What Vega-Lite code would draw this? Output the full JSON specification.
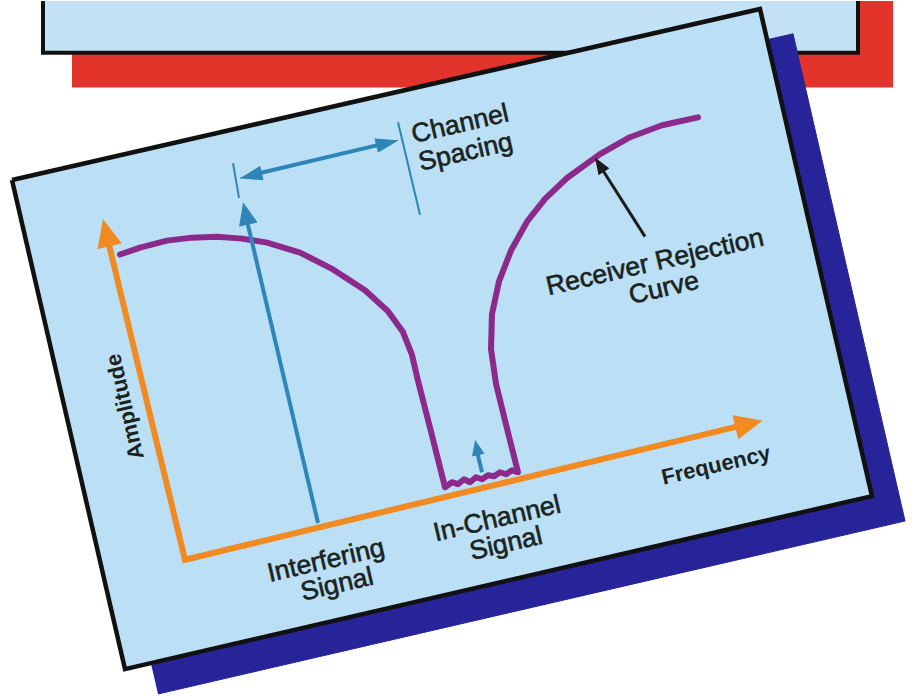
{
  "$schema": "https://vega.github.io/schema/vega-lite/v6.json",
  "width": 915,
  "height": 696,
  "padding": 0,
  "autosize": {"type": "fit", "contains": "padding"},
  "background": "#ffffff",
  "config": {"view": {"stroke": null}},
  "datasets": {
    "paths": [
      {"grp": "navy", "id": "n", "k": 0, "x": 45, "y": 205},
      {"grp": "navy", "id": "n", "k": 1, "x": 793, "y": 33},
      {"grp": "navy", "id": "n", "k": 2, "x": 905, "y": 523},
      {"grp": "navy", "id": "n", "k": 3, "x": 158, "y": 697},

      {"grp": "panel", "id": "p", "k": 0, "x": 12, "y": 180},
      {"grp": "panel", "id": "p", "k": 1, "x": 760, "y": 8},
      {"grp": "panel", "id": "p", "k": 2, "x": 872, "y": 498},
      {"grp": "panel", "id": "p", "k": 3, "x": 125, "y": 672},
      {"grp": "panel", "id": "p", "k": 4, "x": 12, "y": 180},

      {"grp": "axis", "id": "a", "k": 0, "x": 108, "y": 241},
      {"grp": "axis", "id": "a", "k": 1, "x": 185, "y": 562},
      {"grp": "axis", "id": "a", "k": 2, "x": 741, "y": 427},

      {"grp": "axishead", "id": "av", "k": 0, "x": 103, "y": 220},
      {"grp": "axishead", "id": "av", "k": 1, "x": 121, "y": 243.4},
      {"grp": "axishead", "id": "av", "k": 2, "x": 97.6, "y": 249},
      {"grp": "axishead", "id": "ah", "k": 0, "x": 762, "y": 422},
      {"grp": "axishead", "id": "ah", "k": 1, "x": 738.6, "y": 440.1},
      {"grp": "axishead", "id": "ah", "k": 2, "x": 733, "y": 416.7},

      {"grp": "curve", "id": "c", "k": 0, "x": 120, "y": 255},
      {"grp": "curve", "id": "c", "k": 1, "x": 140, "y": 248},
      {"grp": "curve", "id": "c", "k": 2, "x": 167, "y": 241},
      {"grp": "curve", "id": "c", "k": 3, "x": 192, "y": 238},
      {"grp": "curve", "id": "c", "k": 4, "x": 217, "y": 237},
      {"grp": "curve", "id": "c", "k": 5, "x": 242, "y": 239},
      {"grp": "curve", "id": "c", "k": 6, "x": 267, "y": 243},
      {"grp": "curve", "id": "c", "k": 7, "x": 300, "y": 253},
      {"grp": "curve", "id": "c", "k": 8, "x": 333, "y": 270},
      {"grp": "curve", "id": "c", "k": 9, "x": 365, "y": 291},
      {"grp": "curve", "id": "c", "k": 10, "x": 388, "y": 312},
      {"grp": "curve", "id": "c", "k": 11, "x": 403, "y": 333},
      {"grp": "curve", "id": "c", "k": 12, "x": 412, "y": 356},
      {"grp": "curve", "id": "c", "k": 13, "x": 418, "y": 382},
      {"grp": "curve", "id": "c", "k": 14, "x": 432, "y": 437},
      {"grp": "curve", "id": "c", "k": 15, "x": 445, "y": 489},
      {"grp": "curve", "id": "c", "k": 16, "x": 452, "y": 484},
      {"grp": "curve", "id": "c", "k": 17, "x": 458, "y": 486},
      {"grp": "curve", "id": "c", "k": 18, "x": 464, "y": 481},
      {"grp": "curve", "id": "c", "k": 19, "x": 470, "y": 484},
      {"grp": "curve", "id": "c", "k": 20, "x": 476, "y": 479},
      {"grp": "curve", "id": "c", "k": 21, "x": 482, "y": 481},
      {"grp": "curve", "id": "c", "k": 22, "x": 488, "y": 477},
      {"grp": "curve", "id": "c", "k": 23, "x": 494, "y": 478},
      {"grp": "curve", "id": "c", "k": 24, "x": 500, "y": 474},
      {"grp": "curve", "id": "c", "k": 25, "x": 506, "y": 476},
      {"grp": "curve", "id": "c", "k": 26, "x": 512, "y": 472},
      {"grp": "curve", "id": "c", "k": 27, "x": 518, "y": 474},
      {"grp": "curve", "id": "c", "k": 28, "x": 507, "y": 430},
      {"grp": "curve", "id": "c", "k": 29, "x": 496, "y": 385},
      {"grp": "curve", "id": "c", "k": 30, "x": 491, "y": 350},
      {"grp": "curve", "id": "c", "k": 31, "x": 492, "y": 315},
      {"grp": "curve", "id": "c", "k": 32, "x": 499, "y": 282},
      {"grp": "curve", "id": "c", "k": 33, "x": 511, "y": 251},
      {"grp": "curve", "id": "c", "k": 34, "x": 527, "y": 222},
      {"grp": "curve", "id": "c", "k": 35, "x": 545, "y": 199},
      {"grp": "curve", "id": "c", "k": 36, "x": 567, "y": 178},
      {"grp": "curve", "id": "c", "k": 37, "x": 600, "y": 154},
      {"grp": "curve", "id": "c", "k": 38, "x": 630, "y": 137},
      {"grp": "curve", "id": "c", "k": 39, "x": 662, "y": 125},
      {"grp": "curve", "id": "c", "k": 40, "x": 698, "y": 117},

      {"grp": "blueshaft", "id": "s1", "k": 0, "x": 318, "y": 525},
      {"grp": "blueshaft", "id": "s1", "k": 1, "x": 247, "y": 221},
      {"grp": "blueshaft", "id": "s2", "k": 0, "x": 256, "y": 174},
      {"grp": "blueshaft", "id": "s2", "k": 1, "x": 382, "y": 144},
      {"grp": "blueshaft", "id": "s3", "k": 0, "x": 482, "y": 474},
      {"grp": "blueshaft", "id": "s3", "k": 1, "x": 477, "y": 453},

      {"grp": "bluetick", "id": "t1", "k": 0, "x": 233, "y": 163},
      {"grp": "bluetick", "id": "t1", "k": 1, "x": 239, "y": 198},
      {"grp": "bluetick", "id": "t2", "k": 0, "x": 398, "y": 122},
      {"grp": "bluetick", "id": "t2", "k": 1, "x": 420, "y": 215},

      {"grp": "bluehead", "id": "h1", "k": 0, "x": 243, "y": 203},
      {"grp": "bluehead", "id": "h1", "k": 1, "x": 256.8, "y": 222.4},
      {"grp": "bluehead", "id": "h1", "k": 2, "x": 239.2, "y": 226.4},
      {"grp": "bluehead", "id": "h2", "k": 0, "x": 240, "y": 178},
      {"grp": "bluehead", "id": "h2", "k": 1, "x": 263, "y": 179.7},
      {"grp": "bluehead", "id": "h2", "k": 2, "x": 259.8, "y": 166.1},
      {"grp": "bluehead", "id": "h3", "k": 0, "x": 398, "y": 140},
      {"grp": "bluehead", "id": "h3", "k": 1, "x": 378.2, "y": 151.9},
      {"grp": "bluehead", "id": "h3", "k": 2, "x": 375, "y": 138.3},
      {"grp": "bluehead", "id": "h4", "k": 0, "x": 475, "y": 442},
      {"grp": "bluehead", "id": "h4", "k": 1, "x": 483.8, "y": 455},
      {"grp": "bluehead", "id": "h4", "k": 2, "x": 472.2, "y": 457.5},

      {"grp": "blackline", "id": "b", "k": 0, "x": 645, "y": 237},
      {"grp": "blackline", "id": "b", "k": 1, "x": 602, "y": 169},
      {"grp": "blackhead", "id": "bh", "k": 0, "x": 595, "y": 158},
      {"grp": "blackhead", "id": "bh", "k": 1, "x": 608.7, "y": 168.3},
      {"grp": "blackhead", "id": "bh", "k": 2, "x": 598.5, "y": 174.7}
    ]
  },
  "encoding": {
    "x": {"field": "x", "type": "quantitative", "scale": {"domain": [0, 915], "nice": false, "zero": false}, "axis": null},
    "y": {"field": "y", "type": "quantitative", "scale": {"domain": [0, 696], "reverse": true, "nice": false, "zero": false}, "axis": null}
  },
  "layer": [
    {
      "data": {"values": [{"x": 72, "x2": 893, "y": -10, "y2": 87}]},
      "mark": {"type": "rect", "fill": "#E3342B", "clip": true},
      "encoding": {"x2": {"field": "x2"}, "y2": {"field": "y2"}}
    },
    {
      "data": {"values": [{"x": 43, "x2": 858, "y": -10, "y2": 52}]},
      "mark": {"type": "rect", "fill": "#C3E2F6", "stroke": "#111111", "strokeWidth": 4, "clip": true},
      "encoding": {"x2": {"field": "x2"}, "y2": {"field": "y2"}}
    },
    {
      "data": {"name": "paths"},
      "transform": [{"filter": "datum.grp === 'navy'"}],
      "mark": {"type": "line", "fill": "#27249A", "stroke": "#27249A", "strokeWidth": 1},
      "encoding": {"order": {"field": "k", "type": "quantitative"}, "detail": {"field": "id"}}
    },
    {
      "data": {"name": "paths"},
      "transform": [{"filter": "datum.grp === 'panel'"}],
      "mark": {"type": "line", "fill": "#BBDFF5", "stroke": "#111111", "strokeWidth": 4.5, "strokeJoin": "miter"},
      "encoding": {"order": {"field": "k", "type": "quantitative"}, "detail": {"field": "id"}}
    },
    {
      "data": {"name": "paths"},
      "transform": [{"filter": "datum.grp === 'curve'"}],
      "mark": {"type": "line", "stroke": "#8C2A8C", "strokeWidth": 6, "strokeJoin": "round", "strokeCap": "round"},
      "encoding": {"order": {"field": "k", "type": "quantitative"}, "detail": {"field": "id"}}
    },
    {
      "data": {"name": "paths"},
      "transform": [{"filter": "datum.grp === 'blueshaft'"}],
      "mark": {"type": "line", "stroke": "#2E85B7", "strokeWidth": 4},
      "encoding": {"order": {"field": "k", "type": "quantitative"}, "detail": {"field": "id"}}
    },
    {
      "data": {"name": "paths"},
      "transform": [{"filter": "datum.grp === 'bluetick'"}],
      "mark": {"type": "line", "stroke": "#2E85B7", "strokeWidth": 2},
      "encoding": {"order": {"field": "k", "type": "quantitative"}, "detail": {"field": "id"}}
    },
    {
      "data": {"name": "paths"},
      "transform": [{"filter": "datum.grp === 'bluehead'"}],
      "mark": {"type": "line", "fill": "#2E85B7", "stroke": "#2E85B7", "strokeWidth": 1},
      "encoding": {"order": {"field": "k", "type": "quantitative"}, "detail": {"field": "id"}}
    },
    {
      "data": {"name": "paths"},
      "transform": [{"filter": "datum.grp === 'axis'"}],
      "mark": {"type": "line", "stroke": "#F28A22", "strokeWidth": 6, "strokeJoin": "miter"},
      "encoding": {"order": {"field": "k", "type": "quantitative"}, "detail": {"field": "id"}}
    },
    {
      "data": {"name": "paths"},
      "transform": [{"filter": "datum.grp === 'axishead'"}],
      "mark": {"type": "line", "fill": "#F28A22", "stroke": "#F28A22", "strokeWidth": 1},
      "encoding": {"order": {"field": "k", "type": "quantitative"}, "detail": {"field": "id"}}
    },
    {
      "data": {"name": "paths"},
      "transform": [{"filter": "datum.grp === 'blackline'"}],
      "mark": {"type": "line", "stroke": "#1a1d1c", "strokeWidth": 3},
      "encoding": {"order": {"field": "k", "type": "quantitative"}, "detail": {"field": "id"}}
    },
    {
      "data": {"name": "paths"},
      "transform": [{"filter": "datum.grp === 'blackhead'"}],
      "mark": {"type": "line", "fill": "#1a1d1c", "stroke": "#1a1d1c", "strokeWidth": 1},
      "encoding": {"order": {"field": "k", "type": "quantitative"}, "detail": {"field": "id"}}
    },
    {
      "data": {"values": [
        {"label": "Interfering", "x": 326, "y": 563},
        {"label": "Signal", "x": 337, "y": 587},
        {"label": "In-Channel", "x": 497, "y": 521},
        {"label": "Signal", "x": 506, "y": 546},
        {"label": "Receiver Rejection", "x": 655, "y": 263},
        {"label": "Curve", "x": 664, "y": 289}
      ]},
      "mark": {"type": "text", "font": "Liberation Sans", "fontSize": 26.5, "fill": "#1a231e", "stroke": "#1a231e", "strokeWidth": 0.6, "angle": -13, "align": "center", "baseline": "middle"},
      "encoding": {"text": {"field": "label"}}
    },
    {
      "data": {"values": [
        {"label": "Channel", "x": 412, "y": 135},
        {"label": "Spacing", "x": 419, "y": 163}
      ]},
      "mark": {"type": "text", "font": "Liberation Sans", "fontSize": 26.5, "fill": "#1a231e", "stroke": "#1a231e", "strokeWidth": 0.6, "angle": -13, "align": "left", "baseline": "middle"},
      "encoding": {"text": {"field": "label"}}
    },
    {
      "data": {"values": [{"label": "Frequency", "x": 716, "y": 467}]},
      "mark": {"type": "text", "font": "Liberation Sans", "fontWeight": "bold", "fontSize": 22, "fill": "#1a231e", "angle": -13, "align": "center", "baseline": "middle"},
      "encoding": {"text": {"field": "label"}}
    },
    {
      "data": {"values": [{"label": "Amplitude", "x": 125, "y": 408}]},
      "mark": {"type": "text", "font": "Liberation Sans", "fontWeight": "bold", "fontSize": 22, "fill": "#1a231e", "angle": -103, "align": "center", "baseline": "middle"},
      "encoding": {"text": {"field": "label"}}
    }
  ]
}
